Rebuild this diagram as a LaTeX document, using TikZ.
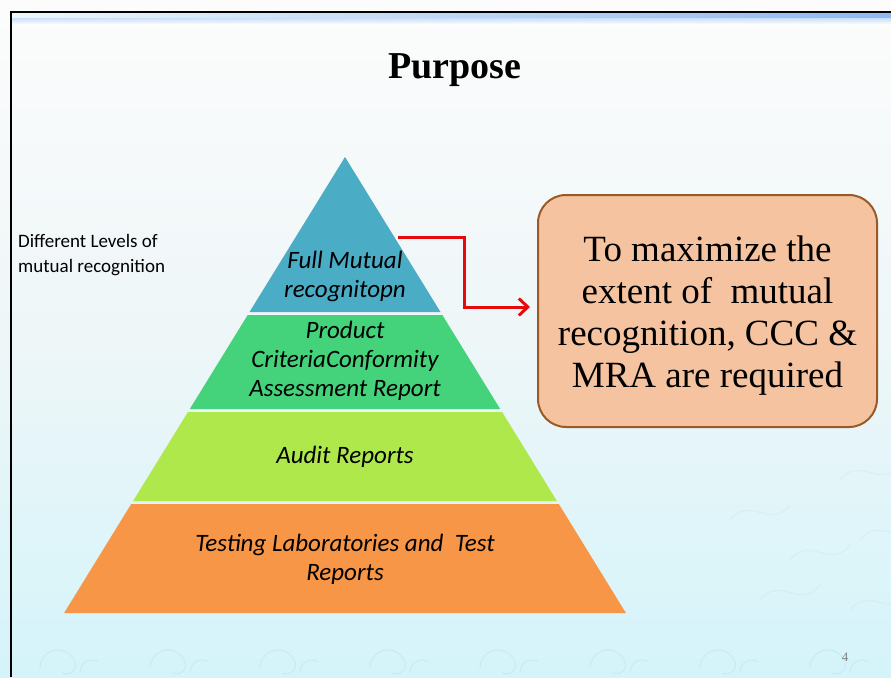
\documentclass[tikz,border=0pt]{standalone}
\usepackage{fontspec}
\setmainfont{Liberation Serif}
\newfontfamily\calibri{Carlito}
\usetikzlibrary{arrows.meta,calc}
\definecolor{bgtop}{HTML}{FCFCFC}
\definecolor{bgmid}{HTML}{EEF6F8}
\definecolor{bgbot}{HTML}{D4F4FA}
\definecolor{wave}{HTML}{A9DCEB}
\definecolor{tierblue}{HTML}{4BACC6}
\definecolor{tiergreen}{HTML}{44D27A}
\definecolor{tierlime}{HTML}{AEE84A}
\definecolor{tierorange}{HTML}{F79646}
\definecolor{boxfill}{HTML}{F6C3A0}
\definecolor{boxline}{HTML}{9A5A28}
\definecolor{arrowred}{HTML}{E80A0A}
\definecolor{bandblue}{HTML}{8DB8F0}
\tikzset{
  tiertext/.style={font=\calibri\itshape\fontsize{25}{29}\selectfont, align=center, text=black},
  sidetext/.style={font=\calibri\fontsize{19}{25}\selectfont, align=left, anchor=north west, inner sep=0pt},
  goalbox/.style={draw=boxline, line width=2pt, fill=boxfill, rounded corners=28pt,
    minimum width=339pt, minimum height=232pt,
    font=\fontsize{37}{42}\selectfont},
  link/.style={draw=arrowred, line width=3pt, -{Straight Barb[length=9pt,width=17pt,line width=3pt]}},
  curl/.style={draw=wave, line width=1.2pt, opacity=0.3}
}
\begin{document}
\begin{tikzpicture}[x=1pt,y=-1pt]
\useasboundingbox (0,0) rectangle (891,677);
% slide background
\shade[top color=bgtop, bottom color=bgbot, middle color=bgmid] (0,0) rectangle (891,677);
% faint wave ornaments along the foot of the slide
\foreach \x in {40,150,260,370,480,590,700,810} {
  \draw[curl] (\x,668) arc[start angle=180, end angle=20, radius=18pt]
              arc[start angle=20, end angle=-120, radius=9pt];
  \draw[curl] (\x+40,672) arc[start angle=180, end angle=60, radius=12pt];
}
\foreach \y/\x in {520/730,560/790,600/760,480/840,540/860,610/850} {
  \draw[curl, opacity=0.2] (\x,\y) .. controls (\x+20,\y-25) and (\x+40,\y+10) .. (\x+60,\y-15);
}
% header band and frame
\shade[left color=bgmid, right color=bandblue] (12,13) rectangle (891,19);
\shade[top color=bandblue!40, bottom color=bgtop] (12,19) rectangle (891,24);
\draw[line width=2pt] (11,677) -- (11,12) -- (891,12);
% title
\node (title) at (455,70) {\fontsize{38}{42}\selectfont\bfseries Purpose};
% side label
\node[sidetext] (levels) at (18,234) {Different Levels of\\mutual recognition};
% pyramid tiers
\fill[tierblue]   (345,157) -- (440.5,312) -- (249.5,312) -- cycle;
\fill[tiergreen]  (247.7,315) -- (442.3,315) -- (500.2,409) -- (189.8,409) -- cycle;
\fill[tierlime]   (187.9,412) -- (502.1,412) -- (556.9,501) -- (133.1,501) -- cycle;
\fill[tierorange] (131.2,504) -- (558.8,504) -- (625.9,613) -- (64.1,613) -- cycle;
\node[tiertext] (full) at (345,276) {Full Mutual\\recognitopn};
\node[tiertext] (product) at (345,361) {Product\\CriteriaConformity\\Assessment Report};
\node[tiertext] (audit) at (345,457) {Audit Reports};
\node[tiertext] (testing) at (345,559) {Testing Laboratories and\ \ Test\\Reports};
% goal box
\node[goalbox] (goal) at (707.5,311) {\raisebox{-5pt}[\height][\depth]{\parbox{330pt}{\centering
  To maximize the\\extent of\ \ mutual\\recognition, CCC \&\\MRA are required}}};
% connector from the top tier to the goal box
\coordinate (start) at (398,237);
\coordinate (bend) at (464,307);
\draw[link, shorten >=7pt] (start) -| (bend) -- (bend -| goal.west);
% page number
\node[text=gray, font=\fontsize{13}{15}\selectfont] (page) at (845,657) {4};
\end{tikzpicture}
\end{document}
